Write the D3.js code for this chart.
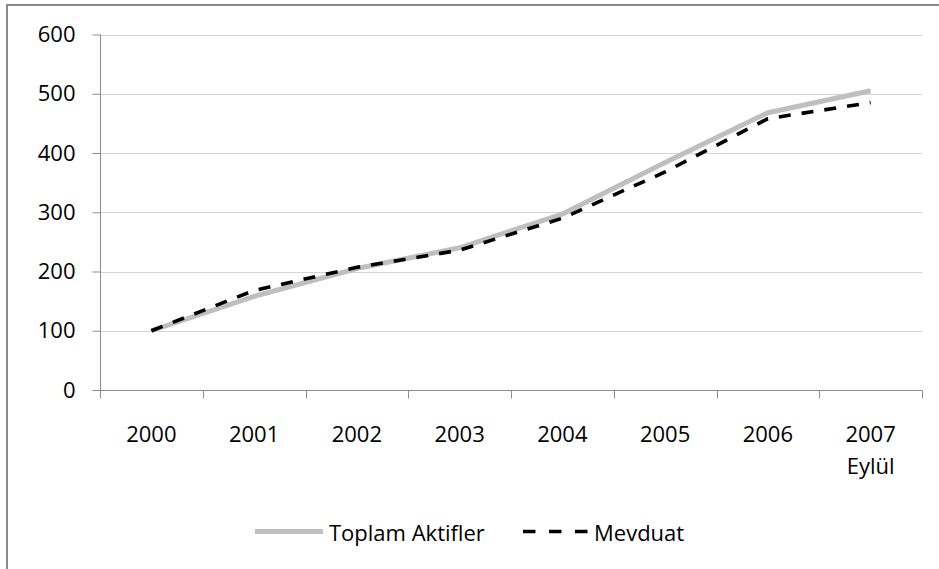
<!DOCTYPE html>
<html>
<head>
<meta charset="utf-8">
<script src="https://cdn.jsdelivr.net/npm/d3@7"></script>
<style>
  html, body { margin: 0; padding: 0; background: #fff; }
  svg { display: block; }
  text { font-family: "Open Sans", "Noto Sans", sans-serif; fill: #000; }
</style>
</head>
<body>
<svg id="chart" width="939" height="569"></svg>
<script>
// Years on the category axis (last one is September 2007)
const years = ["2000", "2001", "2002", "2003", "2004", "2005", "2006", "2007"];
const yearSub = ["", "", "", "", "", "", "", "Eylül"];

// Index values (2000 = 100)
const toplamAktifler = [100, 158, 205, 240, 297, 384, 468, 505];
const mevduat        = [100, 168, 207, 236, 290, 368, 458, 485];

const yTicks = [0, 100, 200, 300, 400, 500, 600];

const seriesNames = ["Toplam Aktifler", "Mevduat"];

const FS = "22px";

const svg = d3.select("#chart");
const W = 939, H = 569;

// Outer frame: only top and left edges are visible
svg.append("line").attr("x1", 7).attr("x2", W).attr("y1", 5).attr("y2", 5)
  .attr("stroke", "#8a8a8a").attr("stroke-width", 2);
svg.append("line").attr("x1", 7).attr("x2", 7).attr("y1", 4).attr("y2", H)
  .attr("stroke", "#8a8a8a").attr("stroke-width", 2);

const plot = { left: 100, right: 922, top: 34.5, bottom: 390 };

const x = d3.scaleBand().domain(years).range([plot.left, plot.right]).padding(0);
const y = d3.scaleLinear().domain([0, 600]).range([plot.bottom, plot.top]);

// Horizontal gridlines
svg.append("g").selectAll("line").data(yTicks.filter(d => d > 0)).join("line")
  .attr("x1", plot.left).attr("x2", plot.right)
  .attr("y1", d => Math.round(y(d)) + 0.5).attr("y2", d => Math.round(y(d)) + 0.5)
  .attr("stroke", "#d4d4d4").attr("stroke-width", 1);

// Y axis
const yAxis = svg.append("g")
  .attr("transform", `translate(${plot.left + 0.5},0)`)
  .call(d3.axisLeft(y).tickValues(yTicks).tickSize(8).tickPadding(17).tickFormat(d3.format("d")));
yAxis.select(".domain").attr("stroke", "#8c8c8c").attr("d", `M0,${plot.top}V${plot.bottom}`);
yAxis.selectAll(".tick line").attr("stroke", "#8c8c8c");
yAxis.selectAll(".tick text").style("font-size", FS).attr("fill", "#000")
  .style("font-family", "'Open Sans', sans-serif");

// X axis: ticks sit on category boundaries
const xAxisG = svg.append("g").attr("transform", `translate(0,${Math.round(plot.bottom) + 0.5})`);
xAxisG.append("line").attr("x1", plot.left).attr("x2", plot.right).attr("y1", 0).attr("y2", 0)
  .attr("stroke", "#8c8c8c");
const boundaries = years.map(d => x(d)).concat([x(years[years.length - 1]) + x.bandwidth()]);
xAxisG.selectAll("line.tk").data(boundaries).join("line").attr("class", "tk")
  .attr("x1", d => Math.round(d) + 0.5).attr("x2", d => Math.round(d) + 0.5)
  .attr("y1", 0).attr("y2", 8).attr("stroke", "#8c8c8c");

const xl = svg.append("g");
xl.selectAll("text.yr").data(years).join("text").attr("class", "yr")
  .attr("x", d => x(d) + x.bandwidth() / 2).attr("y", 433)
  .attr("text-anchor", "middle").attr("dominant-baseline", "central")
  .style("font-size", FS).text(d => d);
xl.selectAll("text.sub").data(years.map((d, i) => ({ d, s: yearSub[i] })).filter(o => o.s)).join("text")
  .attr("class", "sub")
  .attr("x", o => x(o.d) + x.bandwidth() / 2).attr("y", 465)
  .attr("text-anchor", "middle").attr("dominant-baseline", "central")
  .style("font-size", FS).text(o => o.s);

// Series lines
const line = d3.line().x((d, i) => x(years[i]) + x.bandwidth() / 2).y(d => y(d));

svg.append("path").datum(toplamAktifler)
  .attr("d", line).attr("fill", "none")
  .attr("stroke", "#bfbfbf").attr("stroke-width", 5).attr("stroke-linejoin", "round");

svg.append("path").datum(mevduat)
  .attr("d", line).attr("fill", "none")
  .attr("stroke", "#000").attr("stroke-width", 3.6)
  .attr("stroke-dasharray", "12,11").attr("stroke-linejoin", "round");

// Legend
const lg = svg.append("g");
const ly = 531.5;
lg.append("line").attr("x1", 255).attr("x2", 323).attr("y1", ly).attr("y2", ly)
  .attr("stroke", "#bfbfbf").attr("stroke-width", 5);
lg.append("text").attr("x", 329).attr("y", ly).attr("dominant-baseline", "central")
  .style("font-size", FS).text(seriesNames[0]);
lg.append("line").attr("x1", 523).attr("x2", 588).attr("y1", ly).attr("y2", ly)
  .attr("stroke", "#000").attr("stroke-width", 3.6).attr("stroke-dasharray", "12.5,13.5");
lg.append("text").attr("x", 594).attr("y", ly).attr("dominant-baseline", "central")
  .style("font-size", FS).text(seriesNames[1]);
</script>
</body>
</html>
